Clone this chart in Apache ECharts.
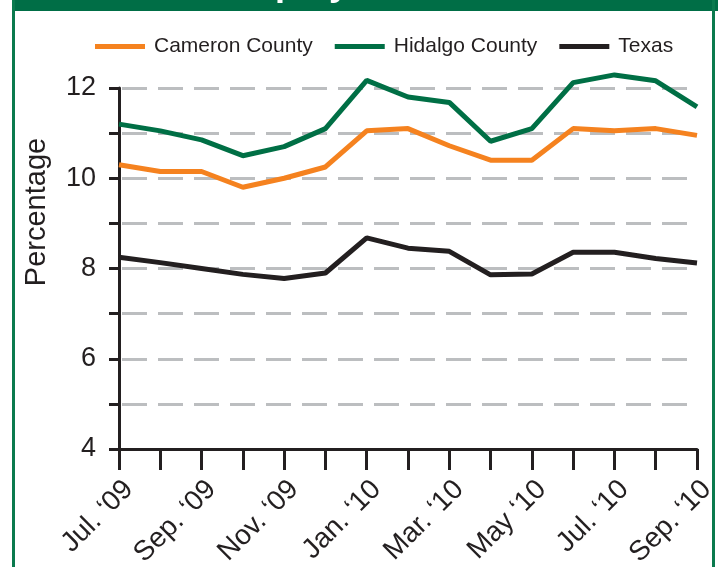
<!DOCTYPE html>
<html>
<head>
<meta charset="utf-8">
<script src="https://cdn.jsdelivr.net/npm/echarts@6/dist/echarts.min.js"></script>
<style>
html,body{margin:0;padding:0;background:#fff;}
#chart{width:718px;height:567px;}
</style>
</head>
<body>
<div id="chart"></div>
<script>
var months = ["Jul. \u201809","Aug. \u201809","Sep. \u201809","Oct. \u201809","Nov. \u201809","Dec. \u201809","Jan. \u201810","Feb. \u201810","Mar. \u201810","Apr. \u201810","May \u201810","Jun. \u201810","Jul. \u201810","Aug. \u201810","Sep. \u201810"];
var cameron = [10.3,10.15,10.15,9.8,10.0,10.25,11.05,11.1,10.72,10.4,10.4,11.1,11.05,11.1,10.95];
var hidalgo = [11.2,11.05,10.85,10.5,10.7,11.1,12.17,11.8,11.68,10.82,11.1,12.12,12.29,12.16,11.58];
var texas = [8.25,8.13,8.0,7.87,7.78,7.9,8.68,8.45,8.38,7.86,7.88,8.36,8.36,8.22,8.12];
var yTicks = [4,6,8,10,12];
var seriesNames = ["Cameron County","Hidalgo County","Texas"];
var colors = ["#f5821f","#006f45","#231f20"];

var FONT = "Liberation Sans, Arial, sans-serif";
var chart = echarts.init(document.getElementById('chart'));
var txt = "#231f20";
chart.setOption({
  animation:false,
  backgroundColor:"#fff",
  color: colors,
  grid:{left:119, right:21, top:88, bottom:118, containLabel:false, outerBoundsMode:'none'},
  legend:{
    data:seriesNames, left:90, top:31, icon:'rect', itemWidth:50, itemHeight:5, itemGap:22,
    textStyle:{fontFamily:FONT, fontSize:21, color:txt, padding:[0,0,0,4]}
  },
  xAxis:{
    type:'category', data:months, boundaryGap:false,
    axisLine:{lineStyle:{color:txt,width:3}},
    axisTick:{show:true, interval:0, length:21, lineStyle:{color:txt,width:3}},
    axisLabel:{interval:1, rotate:45, margin:46, fontFamily:FONT, fontSize:28, color:txt, padding:[0,-14,0,0], hideOverlap:false},
    splitLine:{show:false}
  },
  yAxis:{
    type:'value', min:4, max:12, interval:1,
    axisLine:{show:true, lineStyle:{color:txt,width:3}},
    axisTick:{show:true, length:10, lineStyle:{color:txt,width:3}},
    axisLabel:{margin:23, fontFamily:FONT, fontSize:27, color:txt,
      formatter:function(v){return yTicks.indexOf(v)>=0 ? String(v) : '';}},
    splitLine:{show:true, lineStyle:{color:"#bcbec0", width:3, type:[25,11], dashOffset:-3}}
  },
  graphic:[
    {type:'rect', shape:{x:12,y:0,width:706,height:11}, style:{fill:'#006e46'}, z:100},
    {type:'rect', shape:{x:12,y:0,width:3,height:567}, style:{fill:'#0a7a4e'}, z:100},
    {type:'rect', shape:{x:712,y:0,width:3,height:567}, style:{fill:'#0a7a4e'}, z:100},
    {type:'text', x:175, y:-33, z:101, style:{text:'Unemployment Rate', fill:'#fff', font:'bold 36px '+FONT}},
    {type:'text', x:37, y:212, rotation:Math.PI/2, z:11,
      style:{text:'Percentage', fill:txt, font:'29px '+FONT, align:'center', verticalAlign:'middle'}}
  ],
  series:[
    {name:seriesNames[0], type:'line', data:cameron, clip:false, showSymbol:false, symbol:'none', lineStyle:{width:5, color:colors[0]}, z:3},
    {name:seriesNames[1], type:'line', data:hidalgo, clip:false, showSymbol:false, symbol:'none', lineStyle:{width:5, color:colors[1]}, z:4},
    {name:seriesNames[2], type:'line', data:texas, clip:false, showSymbol:false, symbol:'none', lineStyle:{width:5, color:colors[2]}, z:5}
  ]
});
</script>
</body>
</html>
